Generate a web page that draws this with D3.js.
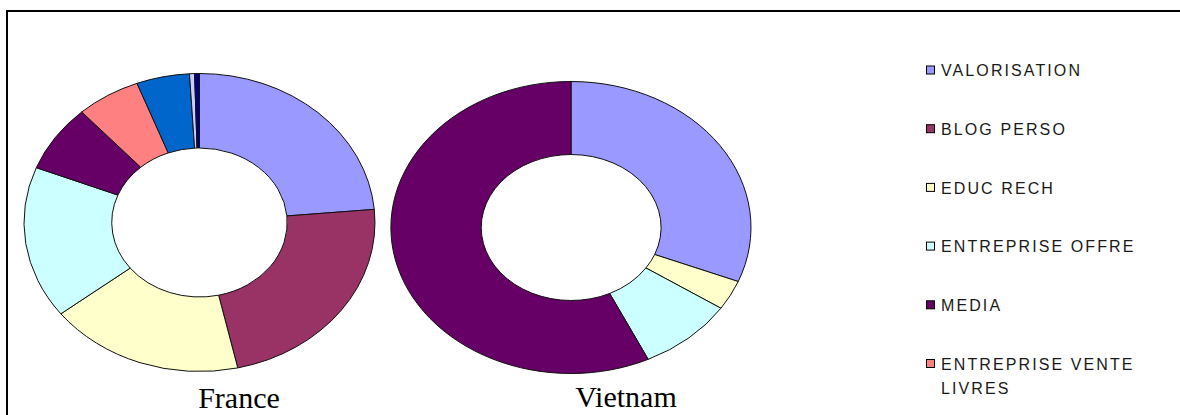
<!DOCTYPE html>
<html>
<head>
<meta charset="utf-8">
<script src="https://cdn.jsdelivr.net/npm/d3@7"></script>
<style>
  body { margin: 0; background: #fff; }
</style>
</head>
<body>
<div id="chart"></div>
<script>
// categories (the last three are cut off from the legend in the picture)
var categories = ["VALORISATION", "BLOG PERSO", "EDUC RECH", "ENTREPRISE OFFRE",
  "MEDIA", "ENTREPRISE VENTE LIVRES", "AUTRE 1", "AUTRE 2", "AUTRE 3"];
var colors = ["#9999FF", "#993366", "#FFFFCC", "#CCFFFF", "#660066",
  "#FF8080", "#0066CC", "#CCCCFF", "#000080"];

// shares in %
var france = [23.6, 22.9, 18.0, 16.5, 7.3, 5.9, 4.9, 0.45, 0.45];
var vietnam = [31.0, 0, 3.3, 8.6, 57.0, 0, 0, 0, 0];

var countries = ["France", "Vietnam"];

var width = 1180, height = 415;

var svg = d3.select('#chart')
  .append('svg')
  .attr('width', width)
  .attr('height', height);

// frame (only top and left edges are visible)
svg.append('path')
  .attr('d', 'M7,' + height + 'V11H' + width)
  .attr('fill', 'none')
  .attr('stroke', '#000')
  .attr('stroke-width', 2);

// donuts: drawn in unit space then stretched into ellipses
var donuts = [
  {name: countries[0], values: france, cx: 199.5, cy: 222.5, rx: 175.5, ry: 149, lx: 239, ly: 408},
  {name: countries[1], values: vietnam, cx: 571, cy: 227.5, rx: 180, ry: 146, lx: 626, ly: 407}
];

var pie = d3.pie().sort(null).value(function(d) { return d.v; });
var arc = d3.arc().innerRadius(0.5).outerRadius(1);

donuts.forEach(function(dn) {
  var rows = dn.values.map(function(v, i) { return {v: v, i: i}; });
  var g = svg.append('g')
    .attr('transform', 'translate(' + dn.cx + ',' + dn.cy + ') scale(' + dn.rx + ',' + dn.ry + ')');

  g.selectAll('path')
    .data(pie(rows).filter(function(d) { return d.data.v > 0; }))
    .enter()
    .append('path')
    .attr('d', arc)
    .attr('fill', function(d) { return colors[d.data.i]; })
    .attr('stroke', '#111')
    .attr('stroke-width', 1)
    .attr('vector-effect', 'non-scaling-stroke');

  svg.append('text')
    .attr('x', dn.lx)
    .attr('y', dn.ly)
    .attr('text-anchor', 'middle')
    .attr('font-family', '"Liberation Serif", "Times New Roman", serif')
    .attr('font-size', '30px')
    .attr('fill', '#000')
    .text(dn.name);
});

// legend
var legendX = 926, legendY = 70.5, legendStep = 58.7, wrapWidth = 225;
var legend = svg.append('g');

categories.forEach(function(c, i) {
  var y = legendY + i * legendStep;
  if (y + 10 > height) return;
  var row = legend.append('g').attr('transform', 'translate(' + legendX + ',' + y + ')');
  row.append('rect')
    .attr('x', 0.5)
    .attr('y', -4.5)
    .attr('width', 8)
    .attr('height', 8)
    .attr('fill', colors[i])
    .attr('stroke', '#000')
    .attr('stroke-width', 1);

  var text = row.append('text')
    .attr('x', 15)
    .attr('y', 5.8)
    .attr('font-family', '"Liberation Sans", Arial, sans-serif')
    .attr('font-size', '16px')
    .attr('letter-spacing', '2.1px')
    .attr('fill', '#1a1a1a');

  // simple word wrap
  var words = c.split(' ');
  var line = [];
  var tspan = text.append('tspan').attr('x', 15).attr('dy', 0);
  words.forEach(function(w) {
    line.push(w);
    tspan.text(line.join(' '));
    if (tspan.node().getComputedTextLength() > wrapWidth && line.length > 1) {
      line.pop();
      tspan.text(line.join(' '));
      line = [w];
      tspan = text.append('tspan').attr('x', 15).attr('dy', 24.4).text(w);
    }
  });
});
</script>
</body>
</html>
